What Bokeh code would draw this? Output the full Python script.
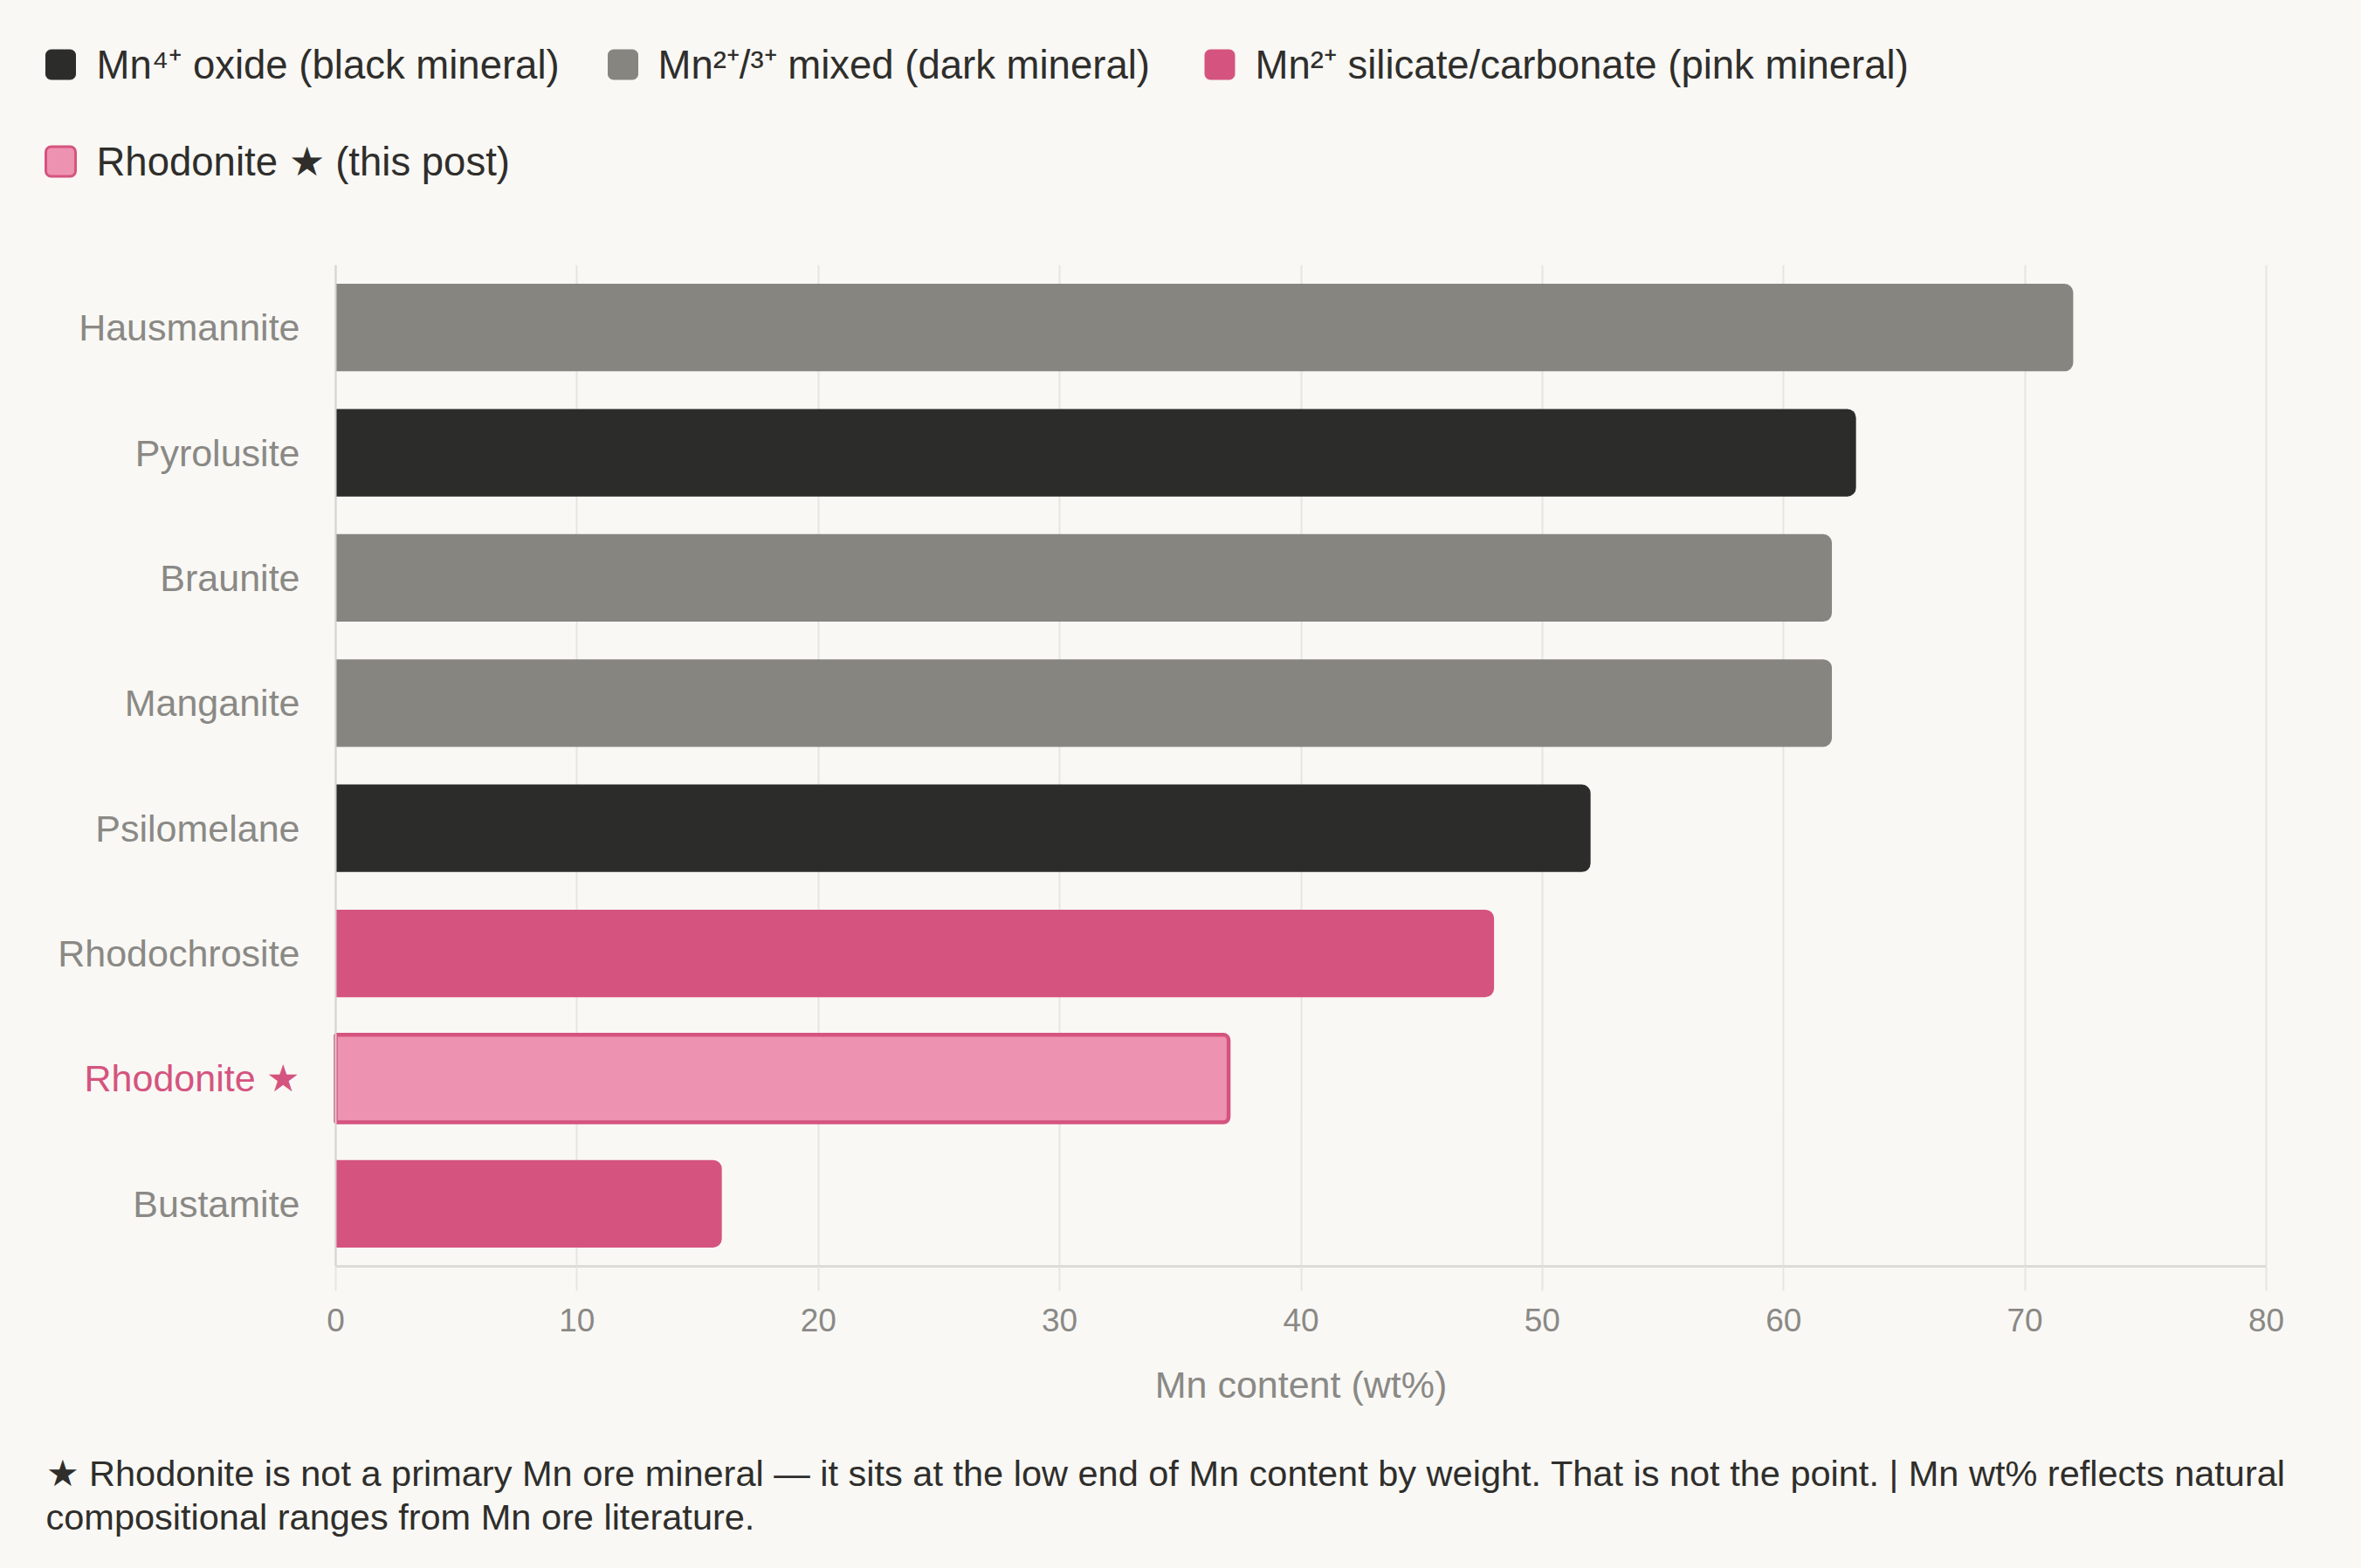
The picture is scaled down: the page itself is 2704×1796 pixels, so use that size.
from bokeh.plotting import figure
from bokeh.models import ColumnDataSource, Range1d, FactorRange, Span, FixedTicker
from bokeh.layouts import column
from bokeh.embed import file_html
from bokeh.resources import INLINE
from bokeh.core.properties import value

# ---------------- data ----------------
minerals = ["Hausmannite", "Pyrolusite", "Braunite", "Manganite",
            "Psilomelane", "Rhodochrosite", "Rhodonite ★", "Bustamite"]
mn_wt = [72, 63, 62, 62, 52, 48, 37, 16]
groups = ["mixed", "oxide", "mixed", "mixed", "oxide", "pink", "this", "pink"]

group_keys = ["oxide", "mixed", "pink", "this"]
group_labels = ["Mn⁴⁺ oxide (black mineral)", "Mn²⁺/³⁺ mixed (dark mineral)",
                "Mn²⁺ silicate/carbonate (pink mineral)", "Rhodonite ★ (this post)"]
x_ticks = [0, 10, 20, 30, 40, 50, 60, 70, 80]
x_title = "Mn content (wt%)"
footnote = ["★ Rhodonite is not a primary Mn ore mineral — it sits at the low end of Mn content by weight. That is not the point. | Mn wt% reflects natural",
            "compositional ranges from Mn ore literature."]

# ---------------- styles / layout ----------------
BG = "#F9F8F5"
FILL = {"oxide": "#2C2C2A", "mixed": "#878580", "pink": "#D5547F", "this": "#EE92B1"}
EDGE = {"oxide": None, "mixed": None, "pink": None, "this": "#D5547F"}
TXT = "#2F2E2B"
AXTXT = "#8A8985"
GRID = "#E7E5E0"
FONT = "Liberation Sans"
W, H = 2704, 1796
LEG_H = 270
MAIN_H = 1290
FOOT_H = H - LEG_H - MAIN_H
FRAME_TOP, FRAME_BOTTOM = 303, 1450      # plot area in page pixels
X_LO_PX, X_HI_PX = 384, 2595             # pixel of first / last x tick

def blank(h, y0):
    f = figure(width=W, height=h, x_range=Range1d(0, W), y_range=Range1d(y0 + h, y0),
               x_axis_type=None, y_axis_type=None, output_backend="svg",
               toolbar_location=None, min_border=0)
    f.grid.visible = False
    f.outline_line_color = None
    f.background_fill_color = BG
    f.border_fill_color = BG
    return f

# ---------------- legend ----------------
leg = blank(LEG_H, 0)
sq_x = [69, 713, 1396.5, 69]
sq_y = [73.5, 73.5, 73.5, 184.5]
tx_x = [110, 753, 1437, 110]
leg_src = ColumnDataSource(dict(
    sx=sq_x, sy=sq_y, tx=tx_x, label=group_labels,
    fill=[FILL[k] for k in group_keys],
    edge=[EDGE[k] or FILL[k] for k in group_keys],
    lw=[3 if EDGE[k] else 1 for k in group_keys],
))
leg.rect(x="sx", y="sy", width=34, height=34, fill_color="fill", line_color="edge",
         line_width="lw", border_radius=6, source=leg_src)
leg.text(x="tx", y="sy", text="label", source=leg_src, text_font=value(FONT),
         text_font_size="45.5px", text_baseline="middle", text_color=TXT)

# ---------------- main chart ----------------
px_per_unit = (X_HI_PX - X_LO_PX) / (x_ticks[-1] - x_ticks[0])
x_start = x_ticks[0] - X_LO_PX / px_per_unit
x_end = x_ticks[-1] + (W - X_HI_PX) / px_per_unit

p = figure(width=W, height=MAIN_H,
           y_range=FactorRange(factors=minerals[::-1]),
           x_range=Range1d(x_start, x_end),
           y_axis_location=None,
           output_backend="svg", toolbar_location=None,
           min_border_left=0, min_border_right=0,
           min_border_top=FRAME_TOP - LEG_H,
           min_border_bottom=LEG_H + MAIN_H - FRAME_BOTTOM)
p.background_fill_color = BG
p.border_fill_color = BG
p.outline_line_color = None

p.xaxis.ticker = FixedTicker(ticks=x_ticks)
p.xaxis.bounds = (x_ticks[0], x_ticks[-1])
p.xaxis.axis_line_color = "#DDDBD6"
p.xaxis.axis_line_width = 3
p.xaxis.major_tick_line_color = GRID
p.xaxis.major_tick_line_width = 2
p.xaxis.major_tick_out = 28
p.xaxis.major_tick_in = 0
p.xaxis.minor_tick_line_color = None
p.xaxis.major_label_text_font = FONT
p.xaxis.major_label_text_font_size = "37px"
p.xaxis.major_label_text_color = AXTXT
p.xaxis.major_label_standoff = 20
p.xgrid.grid_line_color = GRID
p.xgrid.grid_line_width = 2
p.ygrid.visible = False

p.add_layout(Span(location=x_ticks[0], dimension="height", line_color="#D6D4CF", line_width=2))

is_this = [g == "this" for g in groups]
main_src = ColumnDataSource(dict(
    mineral=[m for m, t in zip(minerals, is_this) if not t],
    mn=[v for v, t in zip(mn_wt, is_this) if not t],
    fill=[FILL[g] for g, t in zip(groups, is_this) if not t],
))
this_src = ColumnDataSource(dict(
    mineral=[m for m, t in zip(minerals, is_this) if t],
    mn=[v for v, t in zip(mn_wt, is_this) if t],
))
p.hbar(y="mineral", left=0, right="mn", height=0.7, fill_color="fill", line_color=None,
       border_radius=(0, 10, 10, 0), source=main_src)
p.hbar(y="mineral", left=0, right="mn", height=0.7, fill_color=FILL["this"],
       line_color=EDGE["this"], line_width=4.5, border_radius=(0, 6, 6, 0), source=this_src)

# category labels (left of the value axis origin)
lab_src = ColumnDataSource(dict(
    mineral=minerals,
    color=[FILL["pink"] if t else AXTXT for t in is_this],
))
p.text(x=x_ticks[0], y="mineral", text="mineral", source=lab_src, x_offset=-41,
       text_align="right", text_baseline="middle", text_color="color",
       text_font=value(FONT), text_font_size="43px")

# ---------------- axis title + footnote ----------------
FOOT_TOP = LEG_H + MAIN_H
foot = blank(FOOT_H, FOOT_TOP)
foot.text(x=[(X_LO_PX + X_HI_PX) / 2], y=[1585], text=[x_title], text_font=value(FONT),
          text_font_size="43px", text_align="center", text_baseline="middle",
          text_color=AXTXT)
foot_src = ColumnDataSource(dict(x=[52, 52], y=[1687, 1737], text=footnote))
foot.text(x="x", y="y", text="text", source=foot_src, text_font=value(FONT),
          text_font_size="41.5px", text_baseline="middle", text_color=TXT)

layout = column(leg, p, foot, spacing=0)
layout.styles = {"background-color": BG}
open("out.html", "w").write(file_html(layout, INLINE))
